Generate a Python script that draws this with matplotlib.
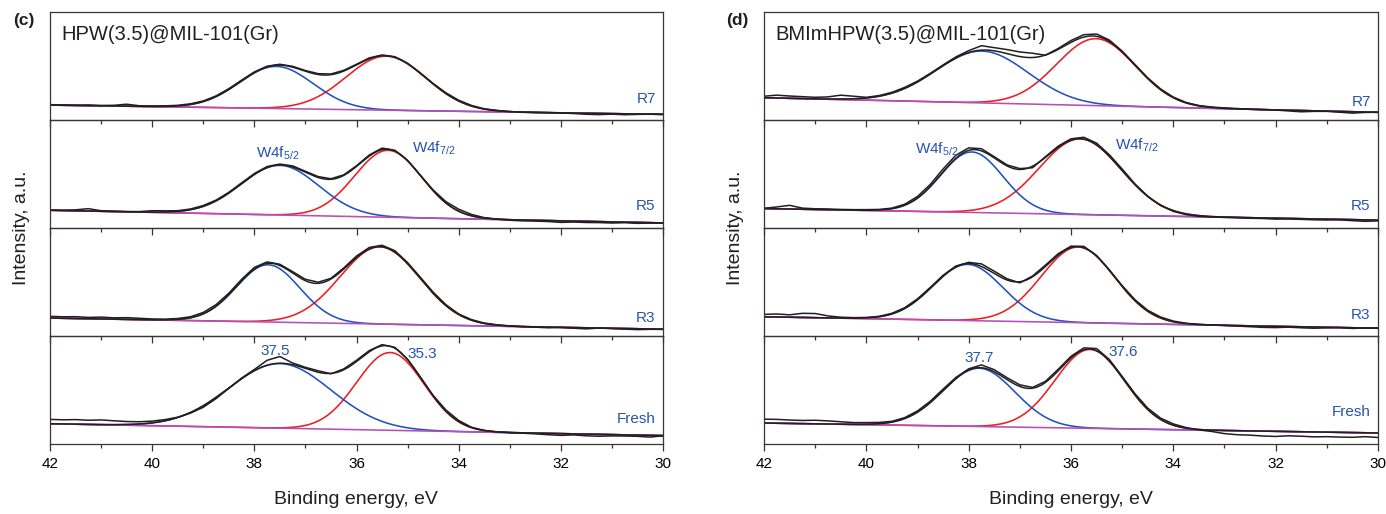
import numpy as np
import matplotlib
matplotlib.use("Agg")
import matplotlib.pyplot as plt

plt.rcParams['font.family'] = ['Liberation Sans', 'DejaVu Sans']
plt.rcParams['mathtext.fontset'] = 'custom'
plt.rcParams['mathtext.rm'] = 'Liberation Sans'

# binding energy of the measured points, 42 -> 30 eV every 0.25 eV
energy = np.linspace(42, 30, 49)
scans = ["R7", "R5", "R3", "Fresh"]

# measured W4f spectra, intensity in % of each strip height
c_r7_raw = [14.2, 14.0, 13.7, 13.9, 13.5, 13.6, 14.6, 13.2, 13.0, 13.1,
            13.6, 15.0, 17.6, 22.3, 29.0, 36.9, 44.5, 49.8, 51.6, 49.7,
            45.8, 42.9, 42.6, 46.0, 51.6, 57.5, 60.2, 58.6, 52.6, 43.6,
            33.8, 25.2, 18.3, 13.5, 10.4, 8.9, 7.8, 7.2, 6.9, 6.8,
            6.5, 6.0, 5.3, 5.0, 5.4, 4.9, 5.2, 5.4, 5.3]
c_r5_raw = [16.6, 16.4, 16.8, 17.9, 16.0, 15.6, 15.3, 15.2, 16.0, 15.9,
            16.0, 17.6, 20.8, 25.8, 33.0, 41.8, 50.4, 56.9, 59.2, 57.5,
            52.5, 47.6, 45.6, 49.2, 57.6, 67.6, 74.0, 72.0, 62.6, 48.8,
            35.2, 24.4, 17.4, 12.6, 9.6, 8.3, 7.2, 6.6, 6.4, 6.0,
            5.2, 5.5, 5.1, 5.0, 4.6, 4.9, 4.3, 4.6, 4.5]
c_r3_raw = [18.2, 17.8, 17.9, 17.2, 17.5, 16.8, 17.0, 16.4, 15.8, 15.6,
            16.2, 17.8, 21.8, 29.0, 39.6, 52.4, 63.5, 68.6, 66.4, 59.6,
            52.5, 49.8, 53.4, 63.0, 74.0, 82.0, 84.0, 79.0, 68.0, 54.4,
            40.6, 29.0, 20.4, 15.2, 12.0, 10.4, 9.4, 8.6, 8.2, 7.6,
            7.9, 7.2, 6.6, 7.4, 6.8, 6.4, 5.9, 6.2, 6.1]
c_fresh_raw = [22.8, 22.4, 22.6, 22.0, 22.3, 21.5, 20.8, 20.6, 21.2, 22.6,
               24.8, 28.6, 34.0, 42.0, 51.5, 61.0, 69.0, 77.5, 81.0, 75.0,
               71.0, 67.8, 65.0, 69.5, 77.5, 86.5, 92.0, 89.5, 78.5, 62.0,
               45.0, 31.5, 21.8, 15.5, 12.6, 11.2, 10.4, 10.0, 9.4, 8.6,
               8.0, 8.4, 7.6, 7.2, 7.5, 7.4, 7.1, 6.4, 7.6]

d_r7_raw = [22.0, 23.0, 22.2, 21.6, 21.0, 21.4, 23.0, 22.0, 21.0, 22.6,
            25.6, 30.2, 36.0, 43.2, 51.0, 58.4, 64.2, 68.8, 67.0, 65.2,
            63.0, 61.8, 60.0, 66.2, 73.6, 79.0, 79.6, 74.0, 63.8, 51.4,
            39.0, 28.8, 21.2, 16.2, 13.4, 12.0, 11.2, 10.6, 10.0, 9.6,
            9.2, 8.4, 7.6, 8.0, 8.0, 7.2, 6.4, 7.0, 7.2]
d_r5_raw = [18.2, 19.5, 21.0, 18.4, 17.8, 17.6, 17.2, 17.0, 17.0, 17.2,
            18.4, 22.0, 29.2, 40.4, 54.6, 67.4, 74.2, 73.4, 66.0, 58.4,
            55.0, 55.8, 66.0, 75.8, 82.6, 84.0, 78.6, 67.8, 54.6, 40.8,
            29.4, 20.8, 15.4, 12.4, 10.8, 10.2, 9.8, 9.6, 9.0, 8.8,
            8.2, 8.4, 8.0, 7.6, 7.4, 7.6, 6.8, 6.2, 6.6]
d_r3_raw = [20.0, 20.4, 19.6, 21.0, 20.8, 18.6, 17.4, 17.0, 17.2, 18.2,
            21.0, 26.2, 34.4, 45.0, 56.2, 64.8, 68.2, 66.8, 60.0, 53.0,
            49.2, 55.6, 65.6, 76.2, 83.2, 83.0, 74.6, 61.2, 46.6, 33.6,
            23.8, 17.6, 13.8, 11.8, 10.8, 10.2, 9.8, 9.2, 8.6, 8.0,
            7.8, 8.2, 7.6, 7.2, 7.5, 7.8, 7.0, 7.4, 7.4]
d_fresh_raw = [23.0, 22.8, 22.2, 21.8, 22.0, 21.4, 20.6, 19.8, 19.8, 20.0,
               21.0, 24.4, 30.6, 39.6, 50.8, 61.6, 69.6, 73.2, 68.8, 61.4,
               54.8, 52.4, 58.0, 69.2, 81.2, 89.0, 88.4, 78.2, 62.6, 46.6,
               33.2, 24.0, 18.6, 15.2, 13.0, 11.6, 9.6, 8.6, 8.2, 7.4,
               7.0, 7.6, 7.2, 6.6, 6.8, 6.4, 6.2, 6.8, 6.0]

# fitted background (value at 42 eV and at 30 eV) and W4f components,
# order R7, R5, R3, Fresh
c_base_42 = [13.8, 16.4, 16.6, 18.75]
c_base_30 = [5.2, 4.7, 6.3, 7.8]
c_w52_pos = [37.57, 37.5, 37.73, 37.5]
c_w52_height = [39, 46, 53, 59.8]
c_w52_sigma = [0.72, 0.76, 0.62, 1.0]
c_w72_pos = [35.42, 35.38, 35.54, 35.34]
c_w72_height = [50, 62, 71.5, 72]
c_w72_sigma = [0.78, 0.66, 0.78, 0.66]

d_base_42 = [20.6, 18.0, 17.8, 19.4]
d_base_30 = [7.1, 7.3, 7.2, 10.2]
d_w52_pos = [37.74, 37.94, 38.02, 37.8]
d_w52_height = [48, 56, 52, 54]
d_w52_sigma = [0.90, 0.61, 0.68, 0.70]
d_w72_pos = [35.51, 35.82, 35.86, 35.63]
d_w72_height = [62, 70, 70, 73]
d_w72_sigma = [0.77, 0.80, 0.72, 0.68]

BLACK = "#231f20"
BLUE = "#1f52c0"
RED = "#ee1c24"
MAGENTA = "#b64fb8"
TXT_BLUE = "#2553b0"
FRAME = "#3b3434"

fig = plt.figure(figsize=(13.86, 5.14), dpi=100)

STRIP_H = 108 / 514
BOTTOM = 1 - 444 / 514


def gauss(x, pos, height, sigma):
    return height * np.exp(-(x - pos) ** 2 / (2 * sigma ** 2))


def draw_panel(left, width, raws, base42, base30, p1, h1, s1, p2, h2, s2,
               title, tag_y, peak_labels):
    fine = np.linspace(42, 30, 600)
    axes = []
    for k in range(4):
        ax = fig.add_axes([left, BOTTOM + (3 - k) * STRIP_H, width, STRIP_H])
        ax.set_facecolor("none")
        base = np.interp(fine, [30, 42], [base30[k], base42[k]])
        blue = gauss(fine, p1[k], h1[k], s1[k])
        red = gauss(fine, p2[k], h2[k], s2[k])
        ax.plot(fine, base + red, color=RED, lw=1.15)
        ax.plot(fine, base + blue, color=BLUE, lw=1.15)
        ax.plot(fine, base, color=MAGENTA, lw=1.15)
        ax.plot(fine, base + blue + red, color=BLACK, lw=1.1)
        ax.plot(energy, raws[k], color=BLACK, lw=1.1)
        ax.set_xlim(42, 30)
        ax.set_ylim(0, 100)
        ax.set_yticks([])
        ax.set_xticks(np.arange(42, 29, -2))
        ax.set_xticks(np.arange(41, 30, -2), minor=True)
        ax.tick_params(which="both", direction="out", color=FRAME,
                       top=False, labelbottom=(k == 3), labelsize=11,
                       pad=4)
        ax.tick_params(which="major", length=5, width=0.9)
        ax.tick_params(which="minor", length=3, width=0.9)
        for sp in ax.spines.values():
            sp.set_color(FRAME)
            sp.set_linewidth(0.9)
        ax.text(0.988, tag_y[k] / 100, scans[k], transform=ax.transAxes,
                ha="right", va="center", color=TXT_BLUE, fontsize=11)
        axes.append(ax)
    axes[0].text(0.019, 0.79, title, transform=axes[0].transAxes,
                 ha="left", va="center", fontsize=14.5, color=BLACK)
    for k, xe, ye, s in peak_labels:
        axes[k].text(xe, ye, s, ha="center", va="center", color=TXT_BLUE,
                     fontsize=11)
    return axes


draw_panel(50 / 1386, 613 / 1386,
           [c_r7_raw, c_r5_raw, c_r3_raw, c_fresh_raw],
           c_base_42, c_base_30, c_w52_pos, c_w52_height, c_w52_sigma,
           c_w72_pos, c_w72_height, c_w72_sigma,
           "HPW(3.5)@MIL-101(Gr)", [19.4, 20.5, 17.0, 23.4],
           [(1, 37.54, 69, r"W4f$_{\mathregular{5/2}}$"),
            (1, 34.48, 73.5, r"W4f$_{\mathregular{7/2}}$"),
            (3, 37.6, 86, "37.5"),
            (3, 34.72, 83, "35.3")])

draw_panel(764 / 1386, 614 / 1386,
           [d_r7_raw, d_r5_raw, d_r3_raw, d_fresh_raw],
           d_base_42, d_base_30, d_w52_pos, d_w52_height, d_w52_sigma,
           d_w72_pos, d_w72_height, d_w72_sigma,
           "BMImHPW(3.5)@MIL-101(Gr)", [17.0, 20.5, 19.7, 29.7],
           [(1, 38.62, 72.6, r"W4f$_{\mathregular{5/2}}$"),
            (1, 34.72, 76.3, r"W4f$_{\mathregular{7/2}}$"),
            (3, 37.8, 80, "37.7"),
            (3, 34.98, 85, "37.6")])

for xl, xc, tag in [(24, 356, "(c)"), (737, 1071, "(d)")]:
    fig.text(xl / 1386, 1 - 20 / 514, tag, ha="center", va="center",
             fontsize=12.5, fontweight="bold", color=BLACK)
    fig.text((xl - 2) / 1386, 1 - 228 / 514, "Intensity, a.u.",
             rotation=90, ha="center", va="center", fontsize=14,
             color=BLACK)
    fig.text(xc / 1386, 1 - 500 / 514, "Binding energy, eV", ha="center",
             va="center", fontsize=14, color=BLACK)

fig.savefig("out.png", dpi=100)
